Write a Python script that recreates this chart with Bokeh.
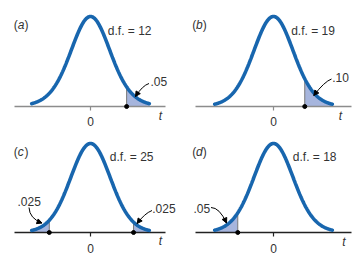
from bokeh.plotting import figure
from bokeh.layouts import gridplot
from bokeh.models import Label, Arrow, NormalHead, Range1d
from bokeh.embed import file_html
from bokeh.resources import INLINE
import numpy as np

# ---- data ----
panel_letters = ["a", "b", "c", "d"]
dfs = [12, 19, 25, 18]
df_labels = ["d.f. = 12", "d.f. = 19", "d.f. = 25", "d.f. = 18"]
tail_labels = [[".05"], [".10"], [".025", ".025"], [".05"]]
# shaded tail intervals, in t units
tails = [[(1.78, 2.9)], [(1.54, 2.9)], [(-2.9, -2.03), (2.12, 2.9)], [(-2.9, -1.76)]]
curve_extent = 2.9
tick_values = [0]
tick_labels = ["0"]

FONT = "Liberation Sans"
TXT = "#333333"
BLUE = "#1866ae"
SHADE = "#a6b5dd"
S = 20.3  # px per t unit

# layout constants per panel (pixel positions local to each panel)
geo = [
    dict(w=179, h=130, left=14, right=14, cx=90, ay=106, v=90, axis="#8c8c8c", lab0=14.7),
    dict(w=180, h=130, left=16, right=8, cx=94, ay=106, v=90, axis="#8c8c8c", lab0=14.7),
    dict(w=179, h=130, left=14, right=14, cx=90, ay=102, v=89, axis="#222222", lab0=16.0),
    dict(w=180, h=130, left=16, right=8, cx=94, ay=102, v=89, axis="#222222", lab0=16.0),
]
# annotation pixel spots (local): letter ; df text ; tail texts ; arrows (start, ctrl, end) ; t label
ann = [
    dict(let=(13.3, 24.3), dft=(107.3, 30.2), tt=[(150, 81)],
         arr=[((148.5, 83), (142, 85), (135, 96))], t=(160, 115)),
    dict(let=(12.7, 24.5), dft=(111.7, 30.7), tt=[(152.7, 76.7)],
         arr=[((152, 78.5), (145, 81), (134.3, 95))], t=(161, 115)),
    dict(let=(13.3, 21.3), dft=(109.3, 26), tt=[(17, 71), (151.7, 77.7)],
         arr=[((28.5, 77), (29, 88), (41.5, 92.5)), ((151.5, 80), (144, 83), (136.7, 93))], t=(160, 110)),
    dict(let=(12.7, 21.3), dft=(113.3, 26), tt=[(14, 77.5)],
         arr=[((31.5, 77), (40, 77), (47, 92.5))], t=(164.3, 111.7)),
]


def make_panel(i):
    g = geo[i]
    a = ann[i]
    df = dfs[i]

    def dx(px):
        return (px - g["cx"]) / S

    def dy(py):
        return (g["ay"] - py) / g["v"]

    p = figure(width=g["w"], height=g["h"], output_backend="svg", toolbar_location=None,
               x_range=Range1d(dx(0), dx(g["w"])),
               y_range=Range1d(dy(g["h"]), dy(0)),
               x_axis_location=None, y_axis_location=None,
               min_border=0)
    p.outline_line_color = None
    p.grid.visible = False
    p.background_fill_color = "white"
    p.border_fill_color = "white"

    x = np.linspace(-curve_extent, curve_extent, 301)
    y = (1 + x ** 2 / df) ** (-(df + 1) / 2)

    for (lo, hi) in tails[i]:
        xs = np.linspace(lo, hi, 80)
        ys = (1 + xs ** 2 / df) ** (-(df + 1) / 2)
        px_ = np.concatenate([xs, [hi, lo]])
        py_ = np.concatenate([ys, [0, 0]])
        p.patch(x=px_, y=py_, fill_color=SHADE, line_color=None)
        edge = lo if lo > -curve_extent else hi
        ye = (1 + edge ** 2 / df) ** (-(df + 1) / 2)
        p.segment(x0=[edge], y0=[0], x1=[edge], y1=[ye], line_color="#777777", line_width=1)

    # horizontal t axis with its tick at 0
    p.segment(x0=[dx(g["left"])], y0=[0], x1=[dx(g["w"] - g["right"])], y1=[0],
              line_color=g["axis"], line_width=1.3)
    p.segment(x0=tick_values, y0=[0] * len(tick_values), x1=tick_values,
              y1=[dy(g["ay"] + 4)] * len(tick_values), line_color=g["axis"], line_width=1.2)

    for (lo, hi) in tails[i]:
        edge = lo if lo > -curve_extent else hi
        p.scatter(x=[edge], y=[0], size=4, color="black")

    p.line(x, y, line_color=BLUE, line_width=3.6, line_cap="round")

    # arrows
    for (st, ct, en) in a["arr"]:
        p.quadratic(x0=[dx(st[0])], y0=[dy(st[1])], x1=[dx(en[0])], y1=[dy(en[1])],
                    cx=[dx(ct[0])], cy=[dy(ct[1])], line_color="black", line_width=1)
        sx = dx(en[0]) + 0.08 * (dx(ct[0]) - dx(en[0]))
        sy = dy(en[1]) + 0.08 * (dy(ct[1]) - dy(en[1]))
        p.add_layout(Arrow(end=NormalHead(size=5, fill_color="black", line_color="black"),
                           x_start=sx, y_start=sy, x_end=dx(en[0]), y_end=dy(en[1]),
                           line_color="black", line_width=1))

    def lab(xd, yd, text, italic=False, align="left"):
        p.add_layout(Label(x=xd, y=yd, text=text, text_font=FONT, text_font_size="12px",
                           text_color=TXT, text_baseline="middle", text_align=align,
                           text_font_style="italic" if italic else "normal"))

    lx, ly = a["let"]
    lab(dx(lx), dy(ly), "(")
    lab(dx(lx + 3.9), dy(ly), panel_letters[i], italic=True)
    lab(dx(lx + 10.6), dy(ly), ")")
    lab(dx(a["dft"][0]), dy(a["dft"][1]), df_labels[i])
    for (px, py), t in zip(a["tt"], tail_labels[i]):
        lab(dx(px), dy(py), t)
    lab(dx(a["t"][0]), dy(a["t"][1]), "t", italic=True, align="center")
    for tv, tl in zip(tick_values, tick_labels):
        lab(tv, dy(g["ay"] + g["lab0"]), tl, align="center")
    return p


panels = [make_panel(i) for i in range(4)]
grid = gridplot([[panels[0], panels[1]], [panels[2], panels[3]]], toolbar_location=None)

open("out.html", "w").write(file_html(grid, INLINE))
